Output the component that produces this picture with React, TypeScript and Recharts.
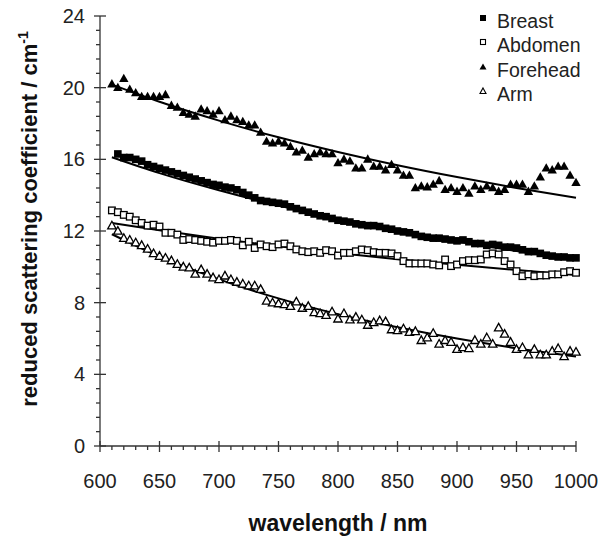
import React from 'react';
import {
  ComposedChart,
  Scatter,
  Line,
  XAxis,
  YAxis,
  Legend,
} from 'recharts';

const FONT = 'Liberation Sans, Arial, Helvetica, sans-serif';
const AXIS_COLOR = '#333';

// measured wavelengths (nm)
const wavelengths = [
  610, 615, 620, 625, 630, 635, 640, 645, 650, 655, 660, 665, 670, 675, 680, 685, 690, 695, 700, 705,
  710, 715, 720, 725, 730, 735, 740, 745, 750, 755, 760, 765, 770, 775, 780, 785, 790, 795, 800, 805,
  810, 815, 820, 825, 830, 835, 840, 845, 850, 855, 860, 865, 870, 875, 880, 885, 890, 895, 900, 905,
  910, 915, 920, 925, 930, 935, 940, 945, 950, 955, 960, 965, 970, 975, 980, 985, 990, 995, 1000,
];

const breast = [
  null, 16.3, 16.1, 16.1, 16.0, 15.9, 15.7, 15.6, 15.5, 15.4, 15.3, 15.2, 15.1, 15.0, 14.9, 14.8, 14.7, 14.6, 14.55, 14.45,
  14.4, 14.3, 14.15, 14.0, 13.85, 13.7, 13.65, 13.6, 13.55, 13.5, 13.35, 13.25, 13.15, 13.05, 12.95, 12.85, 12.8, 12.7, 12.6, 12.55,
  12.5, 12.4, 12.35, 12.3, 12.3, 12.25, 12.15, 12.1, 12.0, 11.95, 11.9, 11.8, 11.7, 11.65, 11.6, 11.6, 11.55, 11.5, 11.45, 11.5,
  11.4, 11.3, 11.3, 11.2, 11.25, 11.2, 11.1, 11.1, 11.05, 10.95, 10.85, 10.85, 10.75, 10.65, 10.6, 10.55, 10.55, 10.5, 10.5,
];

const abdomen = [
  13.15, 13.05, 12.9, 12.8, 12.6, 12.45, 12.3, 12.35, 12.25, 11.9, 11.9, 11.8, 11.5, 11.55, 11.5, 11.45, 11.4, 11.35, 11.45, 11.45,
  11.5, 11.45, 11.2, 11.4, 11.05, 11.25, 11.15, 11.1, 11.25, 11.3, 11.15, 10.97, 10.87, 10.82, 10.87, 10.78, 10.93, 10.87, 10.63, 10.78,
  10.78, 10.87, 10.97, 10.93, 10.82, 10.78, 10.78, 10.75, 10.6, 10.32, 10.19, 10.19, 10.19, 10.19, 10.13, 10.08, 10.41, 10.04, 10.13, 10.32,
  10.37, 10.37, 10.41, 10.69, 10.75, 10.69, 10.32, 10.13, 9.76, 9.48, 9.58, 9.48, 9.52, 9.52, 9.58, 9.58, 9.7, 9.76, 9.67,
];

const forehead = [
  20.2, 20.0, 20.5, 19.9, 19.7, 19.5, 19.5, 19.5, 19.5, 19.6, 19.0, 18.9, 18.6, 18.5, 18.4, 18.8, 18.7, 18.5, 18.7, 18.2,
  18.4, 18.2, 18.1, 17.9, 17.9, 17.5, 17.0, 16.9, 17.0, 16.9, 16.7, 16.4, 16.5, 16.1, 16.3, 16.4, 16.3, 16.3, 15.8, 16.0,
  15.9, 15.5, 15.5, 16.0, 15.6, 15.6, 15.4, 15.7, 15.4, 15.1, 15.1, 14.4, 14.5, 14.45, 14.6, 14.8, 14.3, 14.4, 14.2, 14.4,
  14.1, 14.5, 14.3, 14.5, 14.4, 14.2, 14.3, 14.6, 14.6, 14.6, 14.2, 14.5, 15.0, 15.5, 15.4, 15.6, 15.6, 15.1, 14.7,
];

const arm = [
  12.3, 12.0, 11.6, 11.5, 11.35, 11.2, 11.0, 10.75, 10.6, 10.5, 10.35, 10.15, 10.0, 9.95, 9.6, 9.85, 9.6, 9.4, 9.3, 9.5,
  9.3, 9.15, 9.05, 8.95, 8.95, 8.75, 8.1, 8.0, 7.95, 7.9, 7.8, 8.05, 7.7, 7.8, 7.45, 7.4, 7.3, 7.5, 7.1, 7.4,
  7.05, 7.2, 7.05, 6.75, 6.9, 7.0, 6.95, 6.5, 6.45, 6.55, 6.35, 6.4, 5.9, 6.05, 6.3, 5.7, 5.9, 5.8, 5.4, 5.5,
  5.45, 5.9, 5.7, 6.05, 5.7, 6.6, 6.25, 5.8, 5.4, 5.5, 5.1, 5.4, 5.1, 5.1, 5.3, 5.45, 5.0, 5.3, 5.25,
];

// fitted curves
const fitWavelengths = [610, 650, 700, 750, 800, 850, 900, 950, 1000];
const breastFit = [16.12, 15.23, 14.27, 13.42, 12.67, 12.01, 11.42, 10.88, 10.4];
const abdomenFit = [12.45, 12.04, 11.57, 11.15, 10.77, 10.42, 10.11, 9.82, 9.55];
const foreheadFit = [20.17, 19.21, 18.16, 17.23, 16.41, 15.67, 15.01, 14.4, 13.85];
const armFit = [11.82, 10.58, 9.3, 8.24, 7.36, 6.63, 6.0, 5.46, 4.99];

// axis ticks
const xTicks = [
  600, 610, 620, 630, 640, 650, 660, 670, 680, 690, 700, 710, 720, 730, 740, 750, 760, 770, 780, 790, 800,
  810, 820, 830, 840, 850, 860, 870, 880, 890, 900, 910, 920, 930, 940, 950, 960, 970, 980, 990, 1000,
];
const xMajorTicks = [600, 650, 700, 750, 800, 850, 900, 950, 1000];
const yTicks = [
  0, 0.8, 1.6, 2.4, 3.2, 4, 4.8, 5.6, 6.4, 7.2, 8, 8.8, 9.6, 10.4, 11.2, 12, 12.8, 13.6, 14.4, 15.2, 16,
  16.8, 17.6, 18.4, 19.2, 20, 20.8, 21.6, 22.4, 23.2, 24,
];
const yMajorTicks = [0, 4, 8, 12, 16, 20, 24];

const toPoints = (xs: number[], ys: (number | null)[]) =>
  xs
    .map((x, i) => ({ x, y: ys[i] }))
    .filter(p => p.y !== null && p.y !== undefined);

const FilledSquare = (p: any) => (
  <rect x={p.cx - 3.8} y={p.cy - 3.8} width={7.6} height={7.6} fill="#000" />
);
const OpenSquare = (p: any) => (
  <rect x={p.cx - 3.3} y={p.cy - 3.3} width={6.6} height={6.6} fill="#fff" stroke="#000" strokeWidth={1.3} />
);
const FilledTriangle = (p: any) => (
  <path d={`M${p.cx},${p.cy - 5}L${p.cx + 4.7},${p.cy + 3.3}L${p.cx - 4.7},${p.cy + 3.3}Z`} fill="#000" />
);
const OpenTriangle = (p: any) => (
  <path
    d={`M${p.cx},${p.cy - 4.4}L${p.cx + 4.2},${p.cy + 3.2}L${p.cx - 4.2},${p.cy + 3.2}Z`}
    fill="#fff"
    stroke="#000"
    strokeWidth={1.3}
  />
);

const XTick = (props: any) => {
  const { x, y, payload } = props;
  const major = xMajorTicks.includes(payload.value);
  return (
    <g>
      <line x1={x} x2={x} y1={major ? y - 5 : y} y2={major ? y + 6 : y + 4} stroke={AXIS_COLOR} strokeWidth={1.3} />
      {major && (
        <text x={x} y={y + 42} textAnchor="middle" fontSize={20} fill="#222" fontFamily={FONT}>
          {payload.value}
        </text>
      )}
    </g>
  );
};

const YTick = (props: any) => {
  const { x, y, payload } = props;
  const major = yMajorTicks.some(t => Math.abs(t - payload.value) < 1e-6);
  return (
    <g>
      <line x1={major ? x - 6 : x - 4} x2={major ? x + 6 : x} y1={y} y2={y} stroke={AXIS_COLOR} strokeWidth={1.3} />
      {major && (
        <text x={x - 15} y={y + 7} textAnchor="end" fontSize={20} fill="#222" fontFamily={FONT}>
          {Math.round(payload.value)}
        </text>
      )}
    </g>
  );
};

const legendItems = [
  { name: 'Breast', marker: 'filledSquare' },
  { name: 'Abdomen', marker: 'openSquare' },
  { name: 'Forehead', marker: 'filledTriangle' },
  { name: 'Arm', marker: 'openTriangle' },
];

const LegendMarker = ({ kind }: { kind: string }) => {
  if (kind === 'filledSquare') return <rect x={4} y={6} width={6} height={6} fill="#000" />;
  if (kind === 'openSquare') return <rect x={4.5} y={6.5} width={5} height={5} fill="#fff" stroke="#000" strokeWidth={1.1} />;
  if (kind === 'filledTriangle') return <path d="M7,5.5L10.5,11.5L3.5,11.5Z" fill="#000" />;
  return <path d="M7,6L10,11.5L4,11.5Z" fill="#fff" stroke="#000" strokeWidth={1.1} />;
};

const renderLegend = () => (
  <div style={{ fontFamily: FONT, fontSize: 19.5, color: '#222' }}>
    {legendItems.map(item => (
      <div key={item.name} style={{ position: 'relative', height: 24.3, lineHeight: '24.3px', paddingLeft: 21 }}>
        <svg width={14} height={24} style={{ position: 'absolute', left: 0, top: 0 }}>
          <LegendMarker kind={item.marker} />
        </svg>
        {item.name}
      </div>
    ))}
  </div>
);

export default function App() {
  const breastPts = toPoints(wavelengths, breast);
  const abdomenPts = toPoints(wavelengths, abdomen);
  const foreheadPts = toPoints(wavelengths, forehead);
  const armPts = toPoints(wavelengths, arm);

  const fits = [
    { key: 'breastFit', data: toPoints(fitWavelengths, breastFit) },
    { key: 'abdomenFit', data: toPoints(fitWavelengths, abdomenFit) },
    { key: 'foreheadFit', data: toPoints(fitWavelengths, foreheadFit) },
    { key: 'armFit', data: toPoints(fitWavelengths, armFit) },
  ];

  return (
    <div style={{ position: 'absolute', left: 0, top: 0, background: '#fff' }}>
      <ComposedChart width={603} height={546} margin={{ top: 16, right: 27, bottom: 40, left: 40 }}>
        <XAxis
          dataKey="x"
          type="number"
          domain={[600, 1000]}
          ticks={xTicks}
          interval={0}
          tickSize={0}
          tickMargin={0}
          height={60}
          stroke={AXIS_COLOR}
          strokeWidth={1.3}
          tick={<XTick />}
          label={{
            content: (p: any) => {
              const vb = p.viewBox;
              return (
                <text
                  x={vb.x + vb.width / 2}
                  y={vb.y + 85}
                  textAnchor="middle"
                  fontSize={23}
                  fontWeight="bold"
                  fill="#111"
                  fontFamily={FONT}
                >
                  wavelength / nm
                </text>
              );
            },
          }}
        />
        <YAxis
          dataKey="y"
          type="number"
          domain={[0, 24]}
          ticks={yTicks}
          interval={0}
          tickSize={0}
          tickMargin={0}
          width={60}
          stroke={AXIS_COLOR}
          strokeWidth={1.3}
          tick={<YTick />}
          label={{
            content: (p: any) => {
              const vb = p.viewBox;
              const cx = 37;
              const cy = vb.y + vb.height / 2 - 12;
              return (
                <text
                  x={cx}
                  y={cy}
                  transform={`rotate(-90, ${cx}, ${cy})`}
                  textAnchor="middle"
                  fontSize={22}
                  fontWeight="bold"
                  fill="#111"
                  fontFamily={FONT}
                >
                  reduced scattering coefficient / cm
                  <tspan fontSize={14} dy={-9}>-1</tspan>
                </text>
              );
            },
          }}
        />
        <Legend
          layout="vertical"
          align="center"
          verticalAlign="middle"
          content={renderLegend}
          wrapperStyle={{ left: 476, top: 9, width: 130 }}
        />
        <Scatter name="Breast" data={breastPts} dataKey="y" shape={FilledSquare} isAnimationActive={false} />
        <Scatter name="Abdomen" data={abdomenPts} dataKey="y" shape={OpenSquare} isAnimationActive={false} />
        <Scatter name="Forehead" data={foreheadPts} dataKey="y" shape={FilledTriangle} isAnimationActive={false} />
        <Scatter name="Arm" data={armPts} dataKey="y" shape={OpenTriangle} isAnimationActive={false} />
        {fits.map(f => (
          <Line
            key={f.key}
            data={f.data}
            dataKey="y"
            type="monotone"
            stroke="#000"
            strokeWidth={2}
            dot={false}
            activeDot={false}
            legendType="none"
            isAnimationActive={false}
          />
        ))}
      </ComposedChart>
    </div>
  );
}
